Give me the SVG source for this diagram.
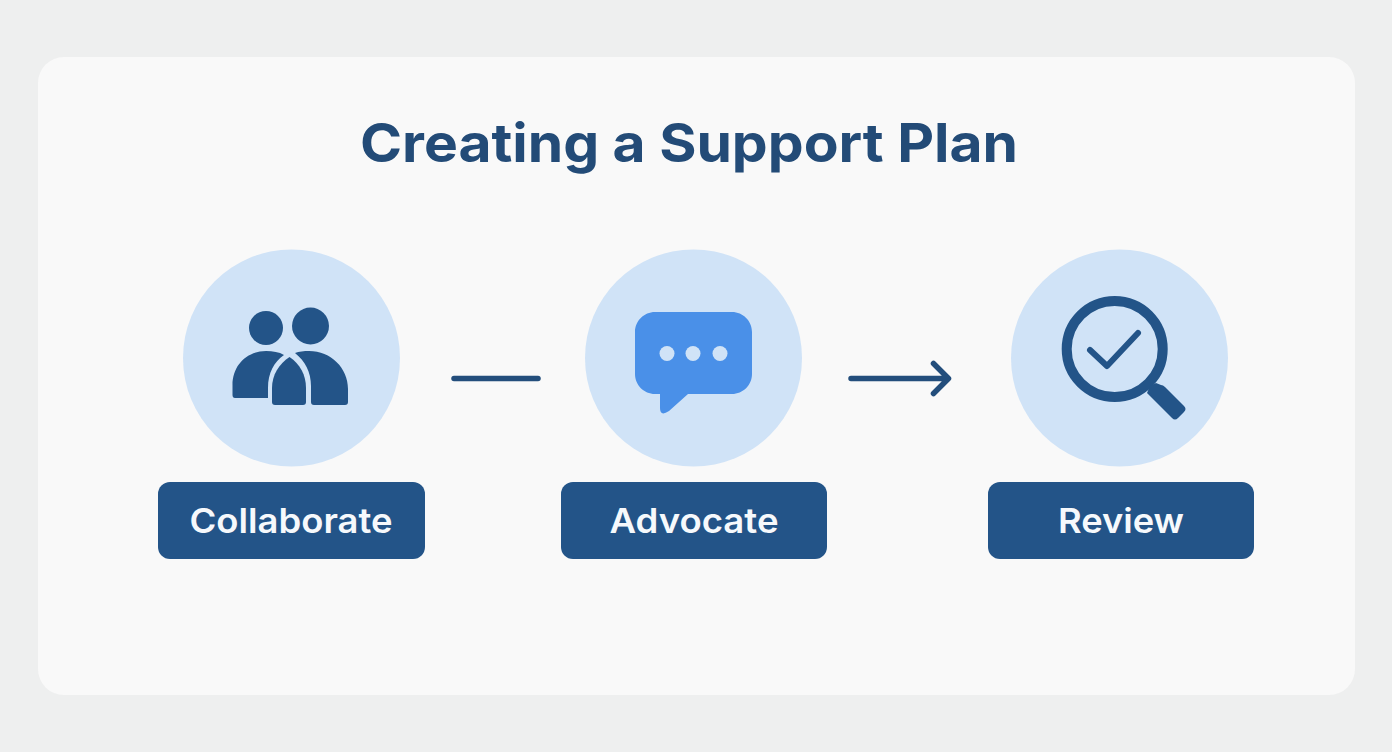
<svg xmlns="http://www.w3.org/2000/svg" width="1392" height="752" viewBox="0 0 1392 752">
<style>
.disc{fill:#d0e3f7}
.dark{fill:#235488}
.lab{fill:#235488}
.t{font-family:"Inter","Open Sans","Liberation Sans",sans-serif;text-anchor:middle}
.lt{fill:#f6f9fc;font-size:34px;font-weight:600}
.conn{fill:none;stroke:#234e7c;stroke-width:5.500;stroke-linecap:round;stroke-linejoin:round}
</style>
<rect width="1392" height="752" fill="#eeefef"/>
<rect x="38" y="57" width="1317" height="638" rx="26" fill="#f9f9f9"/>
<text id="title" class="t" x="689" y="162" font-size="54" font-weight="700" fill="#234b77" textLength="658" lengthAdjust="spacingAndGlyphs">Creating a Support Plan</text>
<g id="connectors">
<path class="conn" d="M454 378.500H538"/>
<path class="conn" d="M851 378.500H947M933.500 363.500L948.500 378.500L933.500 393.500"/>
</g>
<g id="collaborate">
<circle class="disc" cx="291.500" cy="358" r="108.500"/>
<circle class="dark" cx="266" cy="328" r="17"/>
<circle class="dark" cx="310.500" cy="326" r="18.500"/>
<path class="dark" d="M232.500 394V385C232.500 365 247 351 266 351C273 351 279 352 284 355C274 362 268 373 268 388V398H235Q232.500 398 232.500 395Z"/>
<path class="dark" d="M289.500 357C300 364 306 375 306 388V402Q306 405 303 405H275Q272 405 272 402V388C272 375 279 364 289.500 357Z"/>
<path class="dark" d="M295 353C299 351.500 304 351 309 351C331 351 348 368 348 389V402Q348 405 345 405H314Q311 405 311 402V386C311 372 305 361 295 353Z"/>
<rect class="lab" x="158" y="482" width="267" height="77" rx="12"/>
<text class="t lt" x="291" y="533" textLength="203" lengthAdjust="spacingAndGlyphs">Collaborate</text>
</g>
<g id="advocate">
<circle class="disc" cx="693.500" cy="358" r="108.500"/>
<path fill="#4a90e8" d="M655 312H732C743 312 752 321 752 332V374C752 385 743 394 732 394H688L669 411Q660 417 660 408V394H655C644 394 635 385 635 374V332C635 321 644 312 655 312Z"/>
<circle class="disc" cx="667" cy="353.500" r="7.500"/>
<circle class="disc" cx="693" cy="353.500" r="7.500"/>
<circle class="disc" cx="720" cy="353.500" r="7.500"/>
<rect class="lab" x="561" y="482" width="266" height="77" rx="12"/>
<text class="t lt" x="694" y="533" textLength="169" lengthAdjust="spacingAndGlyphs">Advocate</text>
</g>
<g id="review">
<circle class="disc" cx="1119.500" cy="358" r="108.500"/>
<circle cx="1114.700" cy="349" r="48" fill="none" stroke="#235488" stroke-width="10"/>
<path d="M1090 350L1107 366L1138 333" fill="none" stroke="#235488" stroke-width="6" stroke-linecap="round" stroke-linejoin="round"/>
<path class="dark" d="M1147 393L1150 386L1156 383L1161 385Q1163 385 1165 387L1184 406Q1187 409 1184 412L1178 418Q1175 421 1172 418Z"/>
<rect class="lab" x="988" y="482" width="266" height="77" rx="12"/>
<text class="t lt" x="1121" y="533" textLength="126" lengthAdjust="spacingAndGlyphs">Review</text>
</g>
</svg>
